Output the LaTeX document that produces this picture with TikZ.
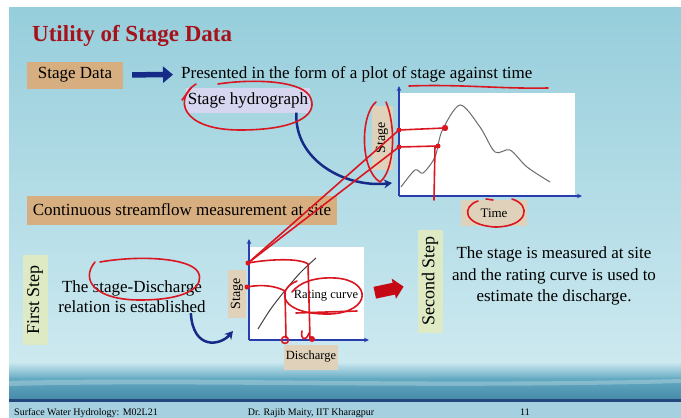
\documentclass[tikz,border=0pt]{standalone}
\usepackage{fontspec}
\setmainfont{Liberation Serif}
\usetikzlibrary{calc}
\usetikzlibrary{arrows.meta}
\definecolor{skytop}{RGB}{150,206,219}
\definecolor{skybot}{RGB}{205,233,240}
\definecolor{sea}{RGB}{100,170,194}
\definecolor{seadeep}{RGB}{70,140,170}
\definecolor{footline}{RGB}{35,70,125}
\definecolor{footbg}{RGB}{165,208,224}
\definecolor{titlered}{RGB}{165,18,28}
\definecolor{tanbg}{RGB}{214,174,128}
\definecolor{tanpale}{RGB}{224,210,186}
\definecolor{lilac}{RGB}{214,214,240}
\definecolor{leaf}{RGB}{222,234,196}
\definecolor{navy}{RGB}{22,42,135}
\definecolor{axisblue}{RGB}{40,62,175}
\definecolor{inkred}{RGB}{218,22,32}
\definecolor{blockred}{RGB}{196,8,20}
\tikzset{
   bodytext/.style={inner sep=0pt, font=\fontsize{17}{20}\selectfont},
   tanbox/.style={fill=tanbg, inner sep=2pt, font=\fontsize{17}{20}\selectfont},
   lilacbox/.style={fill=lilac, inner sep=2pt, font=\fontsize{17}{20}\selectfont},
   greenbox/.style={fill=leaf, inner sep=2pt, font=\fontsize{18}{20}\selectfont},
   labelbox/.style={fill=tanpale, inner sep=1pt},
   axisline/.style={draw=axisblue, line width=1.3pt, -{Stealth[length=5pt,width=4.5pt]}},
   curveline/.style={draw=gray!85!black, line width=1pt},
   navyarrow/.style={draw=navy, line width=5.5pt, -{Triangle[length=10pt,width=16pt]}},
   navybend/.style={draw=navy, line width=2.5pt, -{Stealth[length=8pt,width=9pt]}},
   redblock/.style={draw=blockred, line width=12pt, -{Triangle[length=10pt,width=20pt]}},
   ink/.style={draw=inkred, line width=1.6pt, line cap=round, line join=round},
   inkdot/.style={fill=inkred},
   foot/.style={inner sep=0pt, font=\fontsize{10}{10}\selectfont},
}
\begin{document}
\begin{tikzpicture}[x=1pt,y=-1pt]
\useasboundingbox (0,0) rectangle (681,418);
% slide background
\fill[white] (0,0) rectangle (681,418);
\shade[top color=skytop, bottom color=skybot] (9,7) rectangle (681,363);
\shade[top color=skybot, bottom color=sea] (9,362) rectangle (681,379);
\shade[top color=sea, bottom color=seadeep] (9,378) rectangle (681,399);
\fill[white, opacity=.25] (9,381) .. controls (200,376) and (420,386) .. (681,379) -- (681,383) .. controls (420,390) and (200,381) .. (9,386) -- cycle;
\fill[footline] (9,399) rectangle (681,402);
\fill[footbg] (9,402) rectangle (681,418);

\node[anchor=west, text=titlered, inner sep=0pt, font=\fontsize{23}{26}\selectfont\bfseries] (title) at (32,36) {Utility of Stage Data};

% stage data
\node[tanbox, minimum width=96, minimum height=27] (sdata) at (75,75) {Stage Data};
\node[bodytext, anchor=west] (present) at (181,74) {Presented in the form of a plot of stage against time};
\draw[navyarrow, shorten <=9pt, shorten >=8pt] (sdata) -- (present);
\node[lilacbox, minimum width=114, minimum height=25] (hydro) at (248,100) {Stage hydrograph};

% stage hydrograph plot
\fill[white] (400,93) rectangle (575,196);
\coordinate (ho) at (399,196);
\draw[axisline] (ho) -- (399,86);
\draw[axisline] (ho) -- (582,196);
\draw[curveline] plot[smooth] coordinates {(401,187) (415,170) (423,173) (435,157) (442,131) (460,105) (480,127) (495,152) (510,150) (527,167) (550,182)};
\node[labelbox, rotate=90, minimum width=64, minimum height=21, font=\fontsize{14}{14}\selectfont] (hstage) at (382,138) {Stage};
\node[labelbox, minimum width=66, minimum height=26, font=\fontsize{13}{13}\selectfont] (htime) at (494,213) {Time};
\coordinate (hcurve) at (392,183);
\draw[navybend] ([xshift=-14pt]hydro.south east) .. controls (294,160) and (345,188) .. (hcurve);

\node[tanbox, minimum width=310, minimum height=29] (contin) at (182,210) {Continuous streamflow measurement at site};

% first step
\node[greenbox, rotate=90, minimum width=90, minimum height=25] (first) at (35,300) {First Step};
\node[bodytext, align=center] (relation) at (132,297) {The stage-Discharge\\relation is established};

% rating curve plot
\fill[white] (250,247) rectangle (364,340);
\coordinate (ro) at (249,340);
\draw[axisline] (ro) -- (249,239);
\draw[axisline] (ro) -- (369,340);
\draw[curveline, draw=black!75] plot[smooth] coordinates {(258,329) (270,310) (283,293) (300,273) (316,258)};
\node[labelbox, rotate=90, minimum width=48, minimum height=18, font=\fontsize{14}{14}\selectfont] (rstage) at (237,294) {Stage};
\node[inner sep=1pt, font=\fontsize{12.5}{13}\selectfont] (rcurve) at (326,296) {Rating curve};
\node[labelbox, minimum width=54, minimum height=25, font=\fontsize{12.5}{13}\selectfont] (rdis) at (311,357) {Discharge};
\coordinate (rcurl) at (233,331);
\draw[navybend] ([xshift=-15pt]relation.south east) .. controls (193,350) and (220,346) .. (rcurl);

% second step
\coordinate (rright) at (364,295);
\node[greenbox, rotate=90, minimum width=103, minimum height=25] (second) at (430,281) {Second Step};
\draw[redblock, shorten <=11pt, shorten >=14pt] (rright) -- (second);
\node[align=center, inner sep=0pt, font=\fontsize{17}{21.5}\selectfont] (measured) at (554,276) {The stage is measured at site\\and the rating curve is used to\\estimate the discharge.};

% footer
\node[foot, anchor=base west] (fcourse) at (14,415) {Surface Water Hydrology: M02L21};
\node[foot, anchor=base] (fauthor) at (311,415) {Dr. Rajib Maity, IIT Kharagpur};
\node[foot, anchor=base] (fpage) at (525,415) {11};

% red pen marks
\coordinate (hs1) at (399,130);
\coordinate (hs2) at (399,147);
\coordinate (hc1) at (445,128);
\coordinate (hc2) at (438,146);
\coordinate (rs1) at (248,263);
\coordinate (rs2) at (247,287);
\draw[ink] (409,86) .. controls (460,84) and (500,89) .. (548,88);
\draw[ink] (182,100) -- (191,88);
\draw[ink] (196,84) .. controls (174,98) and (180,130) .. (240,130) .. controls (302,130) and (320,112) .. (309,95) .. controls (298,80) and (250,79) .. (218,84);
\draw[ink] (376,102) .. controls (360,115) and (360,170) .. (380,182) .. controls (395,170) and (396,125) .. (386,102);
\draw[ink] (hs1) -- (hc1);
\draw[ink] (hs2) -- (hc2);
\draw[ink] (435,146) -- (434,200);
\draw[ink] (rs1) -- (hs1);
\draw[ink] (rs1) -- (hs2);
\draw[ink] (rs1) .. controls (270,259) and (300,258) .. (308,264) -- (310,338);
\draw[ink] (rs2) .. controls (262,284) and (276,286) .. (285,291) -- (286,338);
\draw[ink] (285,340) circle (3.5);
\draw[ink] (302,331) .. controls (300,340) and (306,342) .. (309,333);
\fill[inkdot] (312,339) circle (3);
\fill[inkdot] (hs1) circle (2.5);
\fill[inkdot] (hs2) circle (2.5);
\fill[inkdot] (hc1) circle (3.2);
\fill[inkdot] (hc2) circle (2.5);
\fill[inkdot] (rs1) circle (2.5);
\fill[inkdot] (rs2) circle (2.5);
\draw[ink] (297,281) .. controls (275,290) and (280,315) .. (330,314) .. controls (372,312) and (372,280) .. (335,278) .. controls (315,277) and (300,282) .. (292,292);
\draw[ink] (296,313) -- (357,311);
\draw[ink] (95,262) .. controls (80,280) and (95,300) .. (140,300) .. controls (190,300) and (205,285) .. (198,272) .. controls (190,258) and (140,255) .. (100,262);
\draw[ink] (478,201) .. controls (462,206) and (462,225) .. (495,227) .. controls (528,227) and (532,205) .. (512,199);
\draw[ink] (486,199) -- (493,200);
\end{tikzpicture}
\end{document}
